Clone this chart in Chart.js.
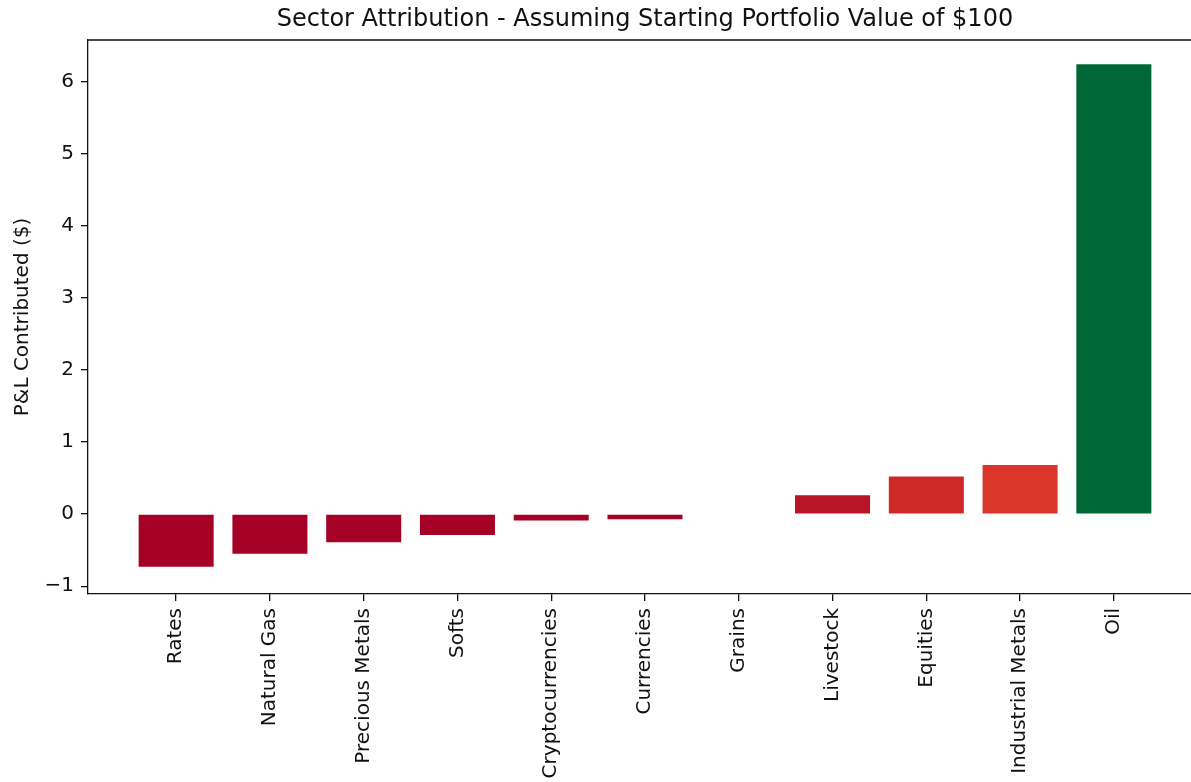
<!DOCTYPE html>
<html>
<head>
<meta charset="utf-8">
<script src="https://cdn.jsdelivr.net/npm/chart.js@4"></script>
<style>
  html, body { margin: 0; padding: 0; background: #fff; overflow: hidden; }
  #wrap { position: absolute; left: 0; top: 0; width: 1210px; height: 782px; }
</style>
</head>
<body>
<div id="wrap"><canvas id="attribution" width="1210" height="782"></canvas></div>
<script>
// sector P&L contribution
const sectors = ['Rates', 'Natural Gas', 'Precious Metals', 'Softs', 'Cryptocurrencies',
    'Currencies', 'Grains', 'Livestock', 'Equities', 'Industrial Metals', 'Oil'];
const pnl = [-0.73, -0.55, -0.39, -0.29, -0.09, -0.07, 0.0, 0.26, 0.52, 0.68, 6.24];
const barColors = ['#a50026', '#a50026', '#a50026', '#a50026', '#a50026',
    '#a50026', '#a50026', '#b81527', '#ce2827', '#da362a', '#006837'];
const yTicks = [-1, 0, 1, 2, 3, 4, 5, 6];

const font = 'DejaVu Sans';
const ink = '#111';

// matplotlib draws a full box round the axes
const frame = {
    id: 'frame',
    afterDraw(chart) {
        const a = chart.chartArea, ctx = chart.ctx;
        ctx.save();
        ctx.strokeStyle = ink;
        ctx.lineWidth = 1.3;
        ctx.beginPath();
        ctx.moveTo(a.left, a.top);
        ctx.lineTo(a.right, a.top);
        ctx.lineTo(a.right, a.bottom);
        ctx.stroke();
        ctx.restore();
    }
};

let attribution_param = {
    type: 'bar',
    data: {
        datasets: [{
            label: 'P&L',
            data: sectors.map((s, i) => ({x: i, y: pnl[i]})),
            backgroundColor: barColors,
            borderWidth: 0,
            barPercentage: 0.8,
            categoryPercentage: 1.0,
        }]
    },
    options: {
        responsive: false,
        animation: false,
        layout: { padding: { left: 0, right: 8, top: 0, bottom: 0 } },
        plugins: {
            legend: { display: false },
            tooltip: { enabled: false },
            title: {
                display: true,
                fullSize: false,
                text: 'Sector Attribution - Assuming Starting Portfolio Value of $100',
                color: ink,
                font: { family: font, size: 24, weight: 'normal', lineHeight: 1.2 },
                padding: { top: 5.6, bottom: 5.6 }
            }
        },
        scales: {
            x: {
                type: 'linear',
                offset: false,
                min: -0.94,
                max: 10.94,
                afterBuildTicks: (scale) => { scale.ticks = sectors.map((s, i) => ({value: i})); },
                afterFit: (scale) => { scale.height = 188; scale.paddingLeft = 0; scale.paddingRight = 0; },
                ticks: {
                    autoSkip: false,
                    minRotation: 90,
                    maxRotation: 90,
                    padding: 7,
                    color: ink,
                    font: { family: font, size: 20 },
                    callback: (v) => sectors[v] !== undefined ? sectors[v] : ''
                },
                grid: { offset: false, drawOnChartArea: false, drawTicks: true, tickLength: 7, color: ink, lineWidth: 1.3 },
                border: { display: true, color: ink, width: 1.3 }
            },
            y: {
                min: -1.108,
                max: 6.575,
                afterBuildTicks: (scale) => { scale.ticks = yTicks.map(v => ({value: v})); },
                afterFit: (scale) => { scale.width = 88; scale.paddingTop = 0; scale.paddingBottom = 0; },
                ticks: {
                    padding: 7,
                    color: ink,
                    font: { family: font, size: 20 },
                    callback: (v) => v < 0 ? '\u2212' + Math.abs(v) : String(v)
                },
                grid: { drawOnChartArea: false, drawTicks: true, tickLength: 7, color: ink, lineWidth: 1.3 },
                border: { display: true, color: ink, width: 1.3 },
                title: {
                    display: true,
                    text: 'P&L Contributed ($)',
                    color: ink,
                    font: { family: font, size: 20, lineHeight: 1.2 },
                    padding: { top: 11, bottom: 0 }
                }
            }
        }
    },
    plugins: [frame]
};
let attribution = new Chart(document.getElementById('attribution'), attribution_param);
</script>
</body>
</html>
